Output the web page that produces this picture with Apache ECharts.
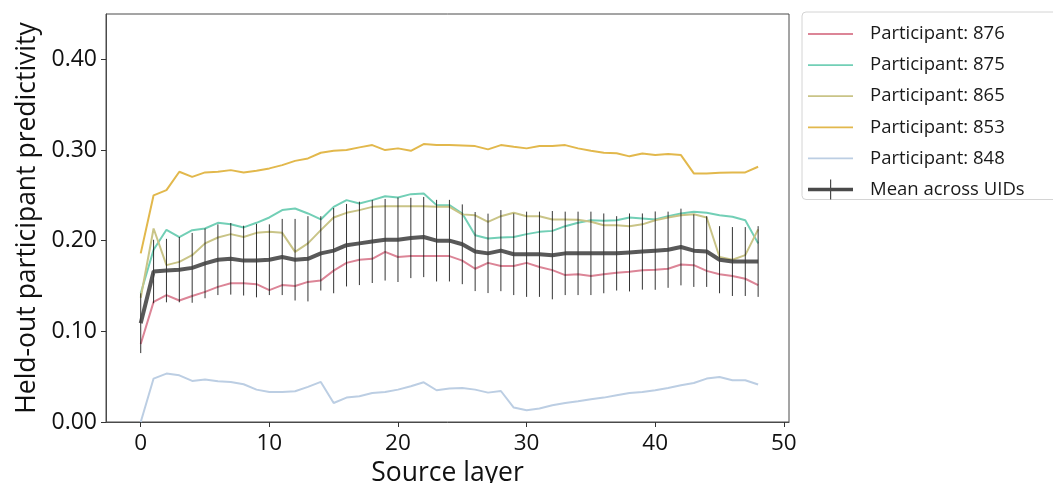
<!DOCTYPE html>
<html>
<head>
<meta charset="utf-8">
<title>Held-out participant predictivity by source layer</title>
<script src="https://cdn.jsdelivr.net/npm/echarts@6/dist/echarts.min.js"></script>
<style>
  html, body { margin: 0; padding: 0; background: #ffffff; }
  #chart { width: 1053px; height: 483px; }
</style>
</head>
<body>
<div id="chart"></div>
<script>
// Source layers 0..48
const layers = Array.from({ length: 49 }, (_, i) => i);

// Per-participant predictivity for each source layer
const p876 = [0.086, 0.1325, 0.140, 0.134, 0.139, 0.1435, 0.149, 0.153, 0.153, 0.152,
  0.1455, 0.151, 0.150, 0.1545, 0.156, 0.167, 0.1755, 0.179, 0.180, 0.1877,
  0.182, 0.183, 0.183, 0.183, 0.183, 0.178, 0.169, 0.1755, 0.172, 0.172,
  0.1755, 0.171, 0.1675, 0.162, 0.163, 0.161, 0.163, 0.1645, 0.1656, 0.1674,
  0.168, 0.169, 0.1737, 0.173, 0.1667, 0.163, 0.161, 0.158, 0.151];

const p875 = [0.142, 0.190, 0.212, 0.204, 0.2116, 0.2134, 0.2197, 0.218, 0.2146, 0.2197,
  0.2256, 0.2337, 0.2355, 0.230, 0.2234, 0.2373, 0.2447, 0.241, 0.2447, 0.249,
  0.2477, 0.2513, 0.2521, 0.2392, 0.2392, 0.230, 0.206, 0.2024, 0.2035, 0.204,
  0.2072, 0.2097, 0.2108, 0.216, 0.2197, 0.2226, 0.2219, 0.2226, 0.2256, 0.2245,
  0.2234, 0.227, 0.230, 0.2318, 0.2307, 0.228, 0.2263, 0.2226, 0.197];

const p865 = [0.137, 0.2134, 0.173, 0.1766, 0.184, 0.197, 0.2035, 0.2072, 0.204, 0.2086,
  0.2097, 0.2086, 0.1877, 0.197, 0.2116, 0.2256, 0.2307, 0.2337, 0.2373, 0.238,
  0.238, 0.238, 0.238, 0.2373, 0.2373, 0.229, 0.228, 0.2208, 0.227, 0.2307,
  0.227, 0.227, 0.2234, 0.2234, 0.223, 0.2208, 0.2171, 0.2171, 0.216, 0.218,
  0.2226, 0.2256, 0.228, 0.2292, 0.2256, 0.182, 0.179, 0.184, 0.2124];

const p853 = [0.186, 0.250, 0.2557, 0.276, 0.2704, 0.2753, 0.276, 0.2778, 0.2753, 0.277,
  0.2797, 0.2833, 0.288, 0.2907, 0.297, 0.2991, 0.2999, 0.3029, 0.3054, 0.2999,
  0.3018, 0.2991, 0.3065, 0.3054, 0.3054, 0.305, 0.3043, 0.3007, 0.3054, 0.3035,
  0.3018, 0.3043, 0.3043, 0.3054, 0.3018, 0.2991, 0.297, 0.2965, 0.293, 0.2962,
  0.2944, 0.2955, 0.2944, 0.2742, 0.2742, 0.275, 0.2753, 0.2753, 0.2815];

const p848 = [0.0, 0.0479, 0.0534, 0.0515, 0.0453, 0.0468, 0.0449, 0.0442, 0.0416, 0.0357,
  0.0331, 0.0331, 0.0339, 0.0387, 0.0442, 0.021, 0.0269, 0.0284, 0.032, 0.0331,
  0.0357, 0.0394, 0.0438, 0.035, 0.0369, 0.0376, 0.0357, 0.0324, 0.0342, 0.0159,
  0.0129, 0.0148, 0.0184, 0.021, 0.0228, 0.025, 0.0269, 0.0295, 0.032, 0.0331,
  0.035, 0.0376, 0.0405, 0.043, 0.0479, 0.0497, 0.046, 0.046, 0.0413];

// Mean across participants and its error half-width
const meanVals = [0.109, 0.166, 0.167, 0.168, 0.170, 0.175, 0.179, 0.180, 0.178, 0.178,
  0.179, 0.182, 0.179, 0.180, 0.186, 0.189, 0.195, 0.197, 0.199, 0.201,
  0.201, 0.203, 0.204, 0.200, 0.200, 0.196, 0.188, 0.186, 0.189, 0.185,
  0.185, 0.185, 0.184, 0.186, 0.186, 0.186, 0.186, 0.186, 0.187, 0.188,
  0.189, 0.190, 0.193, 0.189, 0.188, 0.179, 0.177, 0.177, 0.177];

const meanErr = [0.033, 0.035, 0.035, 0.036, 0.0385, 0.0385, 0.039, 0.0395, 0.0385, 0.0405,
  0.039, 0.042, 0.045, 0.047, 0.041, 0.047, 0.0455, 0.046, 0.0457, 0.045,
  0.0466, 0.0443, 0.0442, 0.045, 0.045, 0.044, 0.0436, 0.0438, 0.0447, 0.045,
  0.047, 0.047, 0.0487, 0.046, 0.046, 0.046, 0.044, 0.041, 0.043, 0.042,
  0.0432, 0.042, 0.0423, 0.040, 0.039, 0.037, 0.038, 0.038, 0.039];

const xTicks = [0, 10, 20, 30, 40, 50];
const yTicks = [0, 0.1, 0.2, 0.3, 0.4];

const participants = [
  { name: 'Participant: 876', values: p876, color: '#dc8597' },
  { name: 'Participant: 875', values: p875, color: '#72cfb6' },
  { name: 'Participant: 865', values: p865, color: '#c9c487' },
  { name: 'Participant: 853', values: p853, color: '#e2b84c' },
  { name: 'Participant: 848', values: p848, color: '#bccee3' }
];
const meanName = 'Mean across UIDs';

const FONT = '"Open Sans", "DejaVu Sans", sans-serif';

// Legend glyphs: a thin stroke for each participant, a thick stroke with a
// vertical error tick for the mean. The zero-area corner segments keep the
// glyph box at the full 45x20 item size so nothing gets stretched.
const ICON_LINE = 'path://M0,9.1 H45 V10.9 H0 Z M0,0 L0.01,0 M45,20 L44.99,20';
const ICON_MEAN = 'path://M0,8.3 H45 V11.7 H0 Z M22,0 H23.2 V20 H22 Z';

const lineSeries = participants.map(p => ({
  name: p.name,
  type: 'line',
  data: layers.map((x, i) => [x, p.values[i]]),
  symbol: 'none',
  lineStyle: { color: p.color, width: 2 },
  itemStyle: { color: p.color },
  z: 2,
  silent: true
}));

const errorBars = {
  type: 'custom',
  data: layers.map((x, i) => [x, meanVals[i] - meanErr[i], meanVals[i] + meanErr[i]]),
  encode: { x: 0, y: [1, 2] },
  renderItem: function (params, api) {
    const lo = api.coord([api.value(0), api.value(1)]);
    const hi = api.coord([api.value(0), api.value(2)]);
    return {
      type: 'line',
      shape: { x1: lo[0], y1: lo[1], x2: hi[0], y2: hi[1] },
      style: { stroke: '#111111', lineWidth: 1, opacity: 0.85 }
    };
  },
  z: 4,
  silent: true
};

const meanSeries = {
  name: meanName,
  type: 'line',
  data: layers.map((x, i) => [x, meanVals[i]]),
  symbol: 'none',
  lineStyle: { color: '#3c3c3c', width: 4, opacity: 0.85 },
  itemStyle: { color: '#4a4a4a' },
  z: 5,
  silent: true
};

const chart = echarts.init(document.getElementById('chart'), null, { renderer: 'canvas' });

chart.setOption({
  animation: false,
  backgroundColor: '#ffffff',
  textStyle: { fontFamily: FONT },
  grid: {
    left: 106, top: 14, right: 264, bottom: 61,
    outerBoundsMode: 'none',
    containLabel: false,
    show: true, borderColor: '#4a4a4a', borderWidth: 1, backgroundColor: 'transparent'
  },
  legend: {
    orient: 'vertical',
    left: 802,
    top: 12,
    padding: [12, 90, 0, 6],
    itemWidth: 45,
    itemHeight: 20,
    itemGap: 11.1,
    backgroundColor: '#ffffff',
    borderColor: '#d4d4d4',
    borderWidth: 1,
    borderRadius: 4,
    textStyle: { fontFamily: FONT, fontSize: 18.5, color: '#1a1a1a', padding: [0, 0, 0, 12] },
    data: participants.map(p => ({ name: p.name, icon: ICON_LINE })).concat([{
      name: meanName,
      icon: ICON_MEAN,
      itemStyle: { color: '#4a4a4a' }
    }])
  },
  xAxis: {
    type: 'value',
    min: -2.7,
    max: 50.4,
    name: 'Source layer',
    nameLocation: 'middle',
    nameGap: 35,
    nameTextStyle: { fontFamily: FONT, fontSize: 26.5, color: '#111111' },
    axisLine: { show: true, onZero: false, lineStyle: { color: '#4a4a4a', width: 1 } },
    axisTick: { show: true, length: 5, customValues: xTicks, lineStyle: { color: '#333333' } },
    axisLabel: {
      customValues: xTicks, margin: 10,
      fontFamily: FONT, fontSize: 22.5, color: '#111111'
    },
    splitLine: { show: false }
  },
  yAxis: {
    type: 'value',
    min: 0,
    max: 0.45,
    name: 'Held-out participant predictivity',
    nameLocation: 'middle',
    nameGap: 65,
    nameRotate: 90,
    nameTextStyle: { fontFamily: FONT, fontSize: 26.5, color: '#111111' },
    axisLine: { show: true, onZero: false, lineStyle: { color: '#4a4a4a', width: 1 } },
    axisTick: { show: true, length: 5, customValues: yTicks, lineStyle: { color: '#333333' } },
    axisLabel: {
      customValues: yTicks, margin: 9,
      fontFamily: FONT, fontSize: 23, color: '#111111',
      formatter: v => v.toFixed(2)
    },
    splitLine: { show: false }
  },
  series: lineSeries.concat([errorBars, meanSeries])
});
</script>
</body>
</html>
